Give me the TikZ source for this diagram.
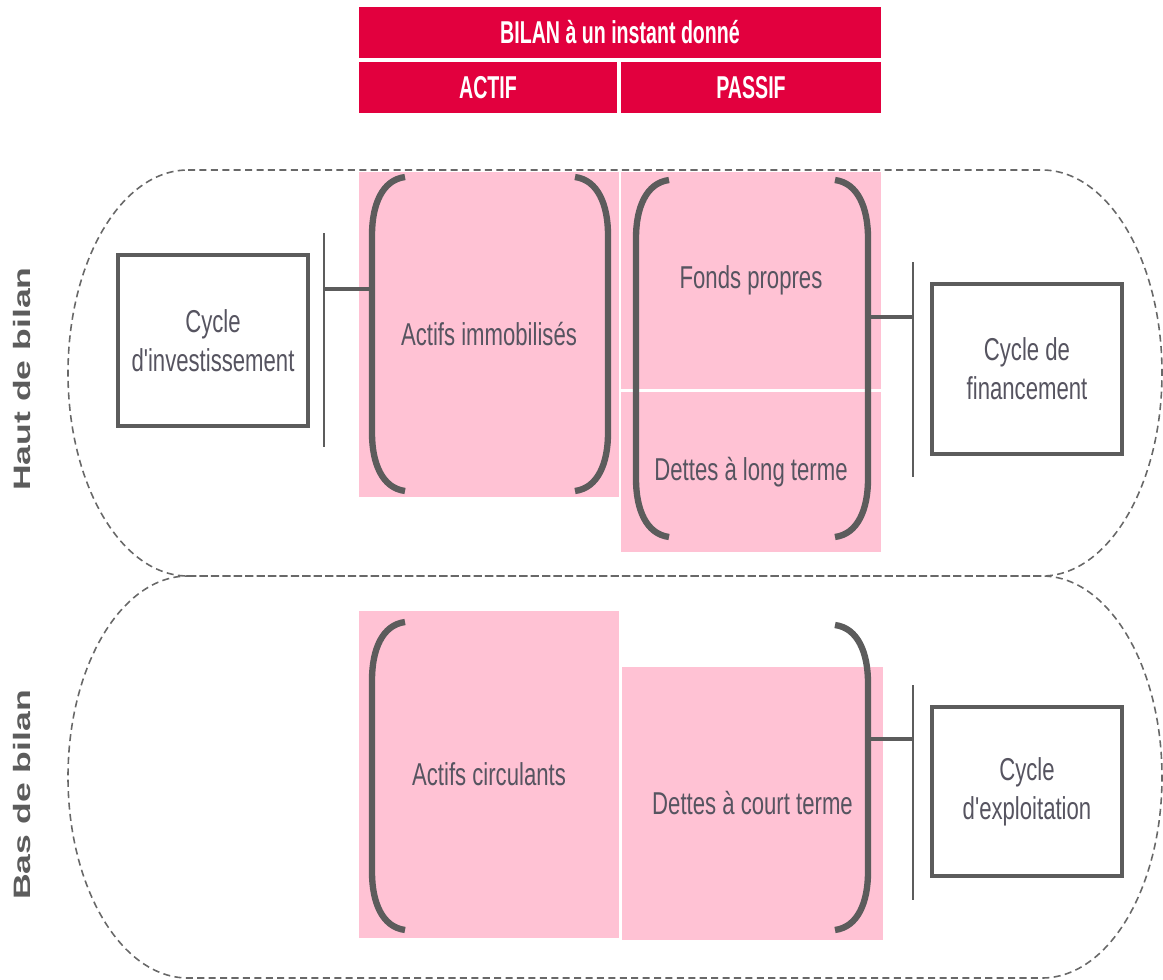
\documentclass[tikz,border=0pt]{standalone}
\usepackage{fontspec}
\newfontfamily\narrowfont[FakeStretch=0.7]{Liberation Sans}
\newfontfamily\headfont[FakeStretch=0.62]{Liberation Sans}
\newfontfamily\sidefont[FakeStretch=1.5]{Liberation Sans}
\definecolor{BilanRed}{RGB}{226,0,62}
\definecolor{BilanPink}{RGB}{255,194,212}
\definecolor{FrameGray}{RGB}{92,92,92}
\definecolor{LabelGray}{RGB}{86,84,96}
\definecolor{DashGray}{RGB}{104,104,104}
\usetikzlibrary{positioning}
\tikzstyle{headbox} = [fill=BilanRed, text=white, inner sep=0pt, minimum height=1.02cm, font=\headfont\bfseries\fontsize{18}{21}\selectfont]
\tikzstyle{pinkbox} = [fill=BilanPink, text=LabelGray, inner sep=0pt, minimum width=5.2cm, font=\narrowfont\fontsize{18}{22}\selectfont]
\tikzstyle{cyclebox} = [draw=FrameGray, line width=2.2pt, fill=white, align=center, text=LabelGray, inner sep=0pt, minimum width=3.8cm, font=\narrowfont\fontsize{18}{22}\selectfont]
\tikzstyle{bracket} = [FrameGray, line width=3.6pt]
\tikzstyle{bar} = [FrameGray, line width=1.6pt]
\tikzstyle{link} = [FrameGray, line width=1.8pt]
\tikzstyle{zone} = [DashGray, line width=0.9pt, dash pattern=on 4pt off 2.5pt]
\tikzstyle{side} = [rotate=90, text=FrameGray, inner sep=0pt, font=\sidefont\bfseries\fontsize{13.5}{16}\selectfont]
% left and right brackets: x of the outer edge, top y, bottom y
\newcommand{\bracketL}[3]{\draw[bracket] (#1+33,#2) .. controls (#1+10,#2+3) and (#1,#2+28) .. (#1,#2+58) -- (#1,#3-58) .. controls (#1,#3-28) and (#1+10,#3-3) .. (#1+33,#3);}
\newcommand{\bracketR}[3]{\draw[bracket] (#1-33,#2) .. controls (#1-10,#2+3) and (#1,#2+28) .. (#1,#2+58) -- (#1,#3-58) .. controls (#1,#3-28) and (#1-10,#3-3) .. (#1-33,#3);}

\begin{document}
\begin{tikzpicture}[x=0.02cm, y=-0.02cm]
    \useasboundingbox (0,0) rectangle (1163,980);
    % haut et bas de bilan
    \draw[zone] (188,170) -- (1042,170) arc[start angle=-90, end angle=90, x radius=120, y radius=203] -- (188,576) arc[start angle=90, end angle=270, x radius=120, y radius=203] -- cycle;
    \draw[zone] (188,576) -- (1042,576) arc[start angle=-90, end angle=90, x radius=120, y radius=201] -- (188,978) arc[start angle=90, end angle=270, x radius=120, y radius=201] -- cycle;
    \node[side] (haut) at (22,379) {Haut de bilan};
    \node[side] (bas) at (22,795) {Bas de bilan};

    % en-tete du bilan
    \node[headbox, minimum width=10.44cm] (bilan) at (620,32.5) {BILAN à un instant donné};
    \node[headbox, minimum width=5.16cm] (actif) at (488,87.5) {ACTIF};
    \node[headbox, minimum width=5.2cm] (passif) at (751,87.5) {PASSIF};

    % postes du bilan
    \node[pinkbox, minimum height=6.5cm] (immo) at (489,334.5) {Actifs immobilisés};
    \node[pinkbox, minimum height=4.34cm] (fonds) at (751,280.5) {Fonds propres};
    \node[pinkbox, minimum height=3.2cm] (dlt) at (751,472) {Dettes à long terme};
    \node[pinkbox, minimum height=6.54cm] (circ) at (489,774.5) {Actifs circulants};
    \node[pinkbox, minimum width=5.22cm, minimum height=5.46cm] (dct) at (752.5,803.5) {Dettes à court terme};

    \bracketL{372}{177}{491}
    \bracketR{608}{177}{491}
    \bracketL{636}{180}{537}
    \bracketR{868}{180}{537}
    \bracketL{372}{622}{930}
    \bracketR{868}{625}{930}

    % cycles
    \node[cyclebox, minimum height=3.42cm] (invest) at (213,340.5) {Cycle\\d'investissement};
    \node[cyclebox, minimum height=3.4cm] (financ) at (1027,369) {Cycle de\\financement};
    \node[cyclebox, minimum height=3.38cm] (exploit) at (1027,791.5) {Cycle\\d'exploitation};

    \draw[bar] (324,233) -- (324,447);
    \draw[bar] (913,262) -- (913,477);
    \draw[bar] (913,685) -- (913,900);
    \coordinate (investbar) at (324,289);
    \coordinate (immoside) at (372,289);
    \coordinate (financbar) at (913,317);
    \coordinate (passifside) at (868,317);
    \coordinate (exploitbar) at (913,739);
    \coordinate (dctside) at (868,739);
    \draw[link] (investbar) -- (immoside);
    \draw[link] (passifside) -- (financbar);
    \draw[link] (dctside) -- (exploitbar);
\end{tikzpicture}
\end{document}
